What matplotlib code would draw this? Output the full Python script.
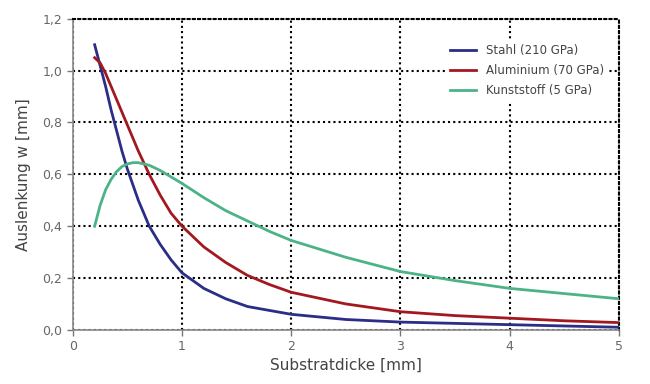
import matplotlib.pyplot as plt

# Substratdicke [mm]
dicke_stahl = [0.2, 0.25, 0.3, 0.35, 0.4, 0.45, 0.5, 0.6, 0.7, 0.8, 0.9, 1.0, 1.2, 1.4, 1.6, 1.8, 2.0, 2.5, 3.0, 3.5, 4.0, 4.5, 5.0]
w_stahl = [1.10, 1.02, 0.94, 0.85, 0.77, 0.69, 0.62, 0.50, 0.40, 0.33, 0.27, 0.22, 0.16, 0.12, 0.09, 0.075, 0.06, 0.04, 0.03, 0.025, 0.02, 0.015, 0.01]

dicke_alu = [0.2, 0.25, 0.3, 0.35, 0.4, 0.45, 0.5, 0.6, 0.7, 0.8, 0.9, 1.0, 1.2, 1.4, 1.6, 1.8, 2.0, 2.5, 3.0, 3.5, 4.0, 4.5, 5.0]
w_alu = [1.05, 1.03, 0.99, 0.94, 0.89, 0.84, 0.79, 0.69, 0.60, 0.52, 0.45, 0.40, 0.32, 0.26, 0.21, 0.175, 0.145, 0.10, 0.07, 0.055, 0.045, 0.035, 0.028]

dicke_kunst = [0.2, 0.25, 0.3, 0.35, 0.4, 0.45, 0.5, 0.55, 0.6, 0.7, 0.8, 0.9, 1.0, 1.2, 1.4, 1.6, 1.8, 2.0, 2.5, 3.0, 3.5, 4.0, 4.5, 5.0]
w_kunst = [0.40, 0.48, 0.54, 0.58, 0.61, 0.63, 0.64, 0.645, 0.645, 0.635, 0.615, 0.59, 0.565, 0.51, 0.46, 0.42, 0.38, 0.345, 0.28, 0.225, 0.19, 0.16, 0.14, 0.12]

x_ticks = [0, 1, 2, 3, 4, 5]
y_ticks = [0.0, 0.2, 0.4, 0.6, 0.8, 1.0, 1.2]
y_ticklabels = ["0,0", "0,2", "0,4", "0,6", "0,8", "1,0", "1,2"]

fig = plt.figure(figsize=(6.5, 3.84), dpi=100)
ax = fig.add_axes([0.112, 0.141, 0.840, 0.810])

ax.plot(dicke_stahl, w_stahl, color="#2b2d86", lw=2, label="Stahl (210 GPa)", zorder=3)
ax.plot(dicke_alu, w_alu, color="#a3181f", lw=2, label="Aluminium (70 GPa)", zorder=3)
ax.plot(dicke_kunst, w_kunst, color="#4cb387", lw=2, label="Kunststoff (5 GPa)", zorder=3)

ax.set_xlim(0, 5)
ax.set_ylim(0, 1.2)
ax.set_xticks(x_ticks)
ax.set_yticks(y_ticks)
ax.set_yticklabels(y_ticklabels)

ax.grid(True, color="black", linestyle=(0, (1, 1.5)), linewidth=1.5, zorder=1)
ax.set_axisbelow(True)

for side in ["top", "right"]:
    ax.spines[side].set_color("black")
    ax.spines[side].set_linestyle((0, (1, 1.5)))
    ax.spines[side].set_linewidth(1.5)
for side in ["left", "bottom"]:
    ax.spines[side].set_color("#888888")
    ax.spines[side].set_linewidth(1.2)

ax.tick_params(colors="#777777", labelsize=9, length=4, width=1, labelcolor="#666666")

ax.set_xlabel("Substratdicke [mm]", fontsize=11, color="#444444", labelpad=3)
ax.set_ylabel("Auslenkung w [mm]", fontsize=11, color="#444444", labelpad=8)

leg = ax.legend(loc="upper right", frameon=True, fontsize=8.5, handlelength=2.2,
                bbox_to_anchor=(0.99, 0.95), borderpad=0.3, labelspacing=0.6)
leg.get_frame().set_edgecolor("none")
leg.get_frame().set_facecolor("white")
leg.get_frame().set_alpha(1)
for t in leg.get_texts():
    t.set_color("#444444")

fig.savefig("out.png", dpi=100)
